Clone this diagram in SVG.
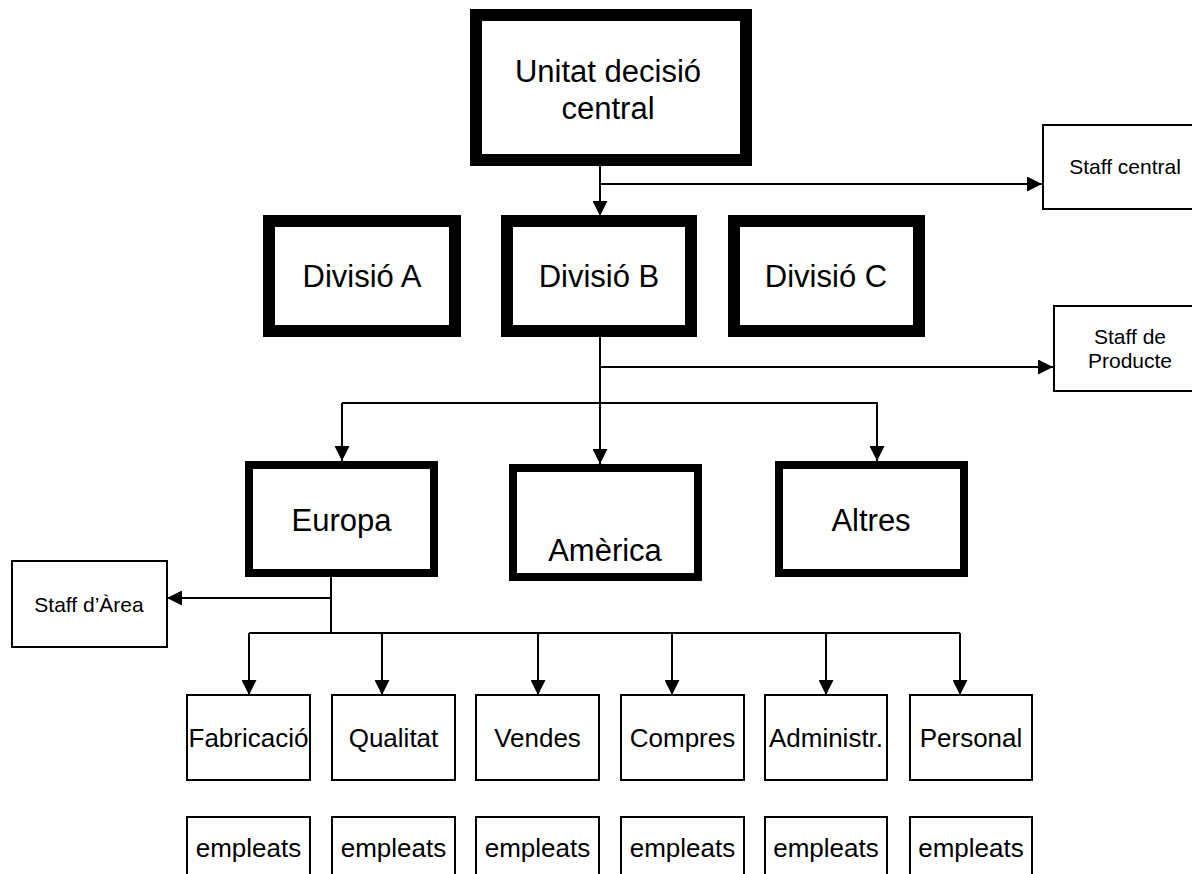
<svg xmlns="http://www.w3.org/2000/svg" width="1192" height="874" viewBox="0 0 1192 874">
<style>
text{font-family:"Liberation Sans",Arial,sans-serif;fill:#000;text-anchor:middle}
.thick{fill:#fff;stroke:#000;stroke-width:12}
.mid{fill:#fff;stroke:#000;stroke-width:8}
.thin{fill:#fff;stroke:#000;stroke-width:2}
.big{font-size:31px}
.med{font-size:26px}
.sm{font-size:21px}
.c{fill:none;stroke:#000;stroke-width:2}
</style>
<defs>
<marker id="arr" markerUnits="userSpaceOnUse" markerWidth="15" markerHeight="15" refX="15" refY="7.5" orient="auto">
<path d="M0,0 L15,7.5 L0,15 z" fill="#000"/>
</marker>
</defs>
<rect width="1192" height="874" fill="#fff"/>
<g id="connectors">
<path class="c" d="M600,166 V216" marker-end="url(#arr)"/>
<path class="c" d="M600,184 H1042" marker-end="url(#arr)"/>
<path class="c" d="M600,337 V403"/>
<path class="c" d="M600,367 H1053" marker-end="url(#arr)"/>
<path class="c" d="M342,403 H878"/>
<path class="c" d="M342,403 V461" marker-end="url(#arr)"/>
<path class="c" d="M600,403 V464" marker-end="url(#arr)"/>
<path class="c" d="M877,403 V461" marker-end="url(#arr)"/>
<path class="c" d="M331,577 V633"/>
<path class="c" d="M331,598 H167" marker-end="url(#arr)"/>
<path class="c" d="M249,633 H960"/>
<path class="c" d="M249,633 V695" marker-end="url(#arr)"/>
<path class="c" d="M382,633 V695" marker-end="url(#arr)"/>
<path class="c" d="M538,633 V695" marker-end="url(#arr)"/>
<path class="c" d="M672,633 V695" marker-end="url(#arr)"/>
<path class="c" d="M826,633 V695" marker-end="url(#arr)"/>
<path class="c" d="M960,633 V695" marker-end="url(#arr)"/>
</g>
<g id="unitat">
<rect class="thick" x="476" y="15" width="270" height="145"/>
<text class="big" x="608" y="82">Unitat decisió</text>
<text class="big" x="608" y="119">central</text>
</g>
<g id="staff-central">
<rect class="thin" x="1043" y="125" width="170" height="84"/>
<text class="sm" x="1125" y="174">Staff central</text>
</g>
<g id="divA">
<rect class="thick" x="269" y="221" width="186" height="110"/>
<text class="big" x="362" y="287">Divisió A</text>
</g>
<g id="divB">
<rect class="thick" x="507" y="221" width="184" height="110"/>
<text class="big" x="599" y="287">Divisió B</text>
</g>
<g id="divC">
<rect class="thick" x="734" y="221" width="185" height="110"/>
<text class="big" x="826" y="287">Divisió C</text>
</g>
<g id="staff-producte">
<rect class="thin" x="1054" y="306" width="160" height="85"/>
<text class="sm" x="1130" y="344">Staff de</text>
<text class="sm" x="1130" y="368">Producte</text>
</g>
<g id="europa">
<rect class="mid" x="249" y="465" width="185" height="108"/>
<text class="big" x="341.5" y="531">Europa</text>
</g>
<g id="america">
<rect class="mid" x="513" y="468" width="185" height="109"/>
<text class="big" x="605" y="561">Amèrica</text>
</g>
<g id="altres">
<rect class="mid" x="779" y="465" width="185" height="108"/>
<text class="big" x="871" y="531">Altres</text>
</g>
<g id="staff-area">
<rect class="thin" x="12" y="561" width="155" height="86"/>
<text class="sm" x="89" y="612">Staff d’Àrea</text>
</g>
<g id="fabricacio">
<rect class="thin" x="187" y="695" width="123" height="85"/>
<text class="med" x="248.5" y="747">Fabricació</text>
</g>
<g id="qualitat">
<rect class="thin" x="332" y="695" width="123" height="85"/>
<text class="med" x="393.5" y="747">Qualitat</text>
</g>
<g id="vendes">
<rect class="thin" x="476" y="695" width="123" height="85"/>
<text class="med" x="537.5" y="747">Vendes</text>
</g>
<g id="compres">
<rect class="thin" x="621" y="695" width="123" height="85"/>
<text class="med" x="682.5" y="747">Compres</text>
</g>
<g id="administr">
<rect class="thin" x="765" y="695" width="122" height="85"/>
<text class="med" x="826" y="747">Administr.</text>
</g>
<g id="personal">
<rect class="thin" x="910" y="695" width="122" height="85"/>
<text class="med" x="971" y="747">Personal</text>
</g>
<g id="empleats-1">
<rect class="thin" x="187" y="817" width="123" height="90"/>
<text class="med" x="248.5" y="857">empleats</text>
</g>
<g id="empleats-2">
<rect class="thin" x="332" y="817" width="123" height="90"/>
<text class="med" x="393.5" y="857">empleats</text>
</g>
<g id="empleats-3">
<rect class="thin" x="476" y="817" width="123" height="90"/>
<text class="med" x="537.5" y="857">empleats</text>
</g>
<g id="empleats-4">
<rect class="thin" x="621" y="817" width="123" height="90"/>
<text class="med" x="682.5" y="857">empleats</text>
</g>
<g id="empleats-5">
<rect class="thin" x="765" y="817" width="122" height="90"/>
<text class="med" x="826" y="857">empleats</text>
</g>
<g id="empleats-6">
<rect class="thin" x="910" y="817" width="122" height="90"/>
<text class="med" x="971" y="857">empleats</text>
</g>
</svg>
